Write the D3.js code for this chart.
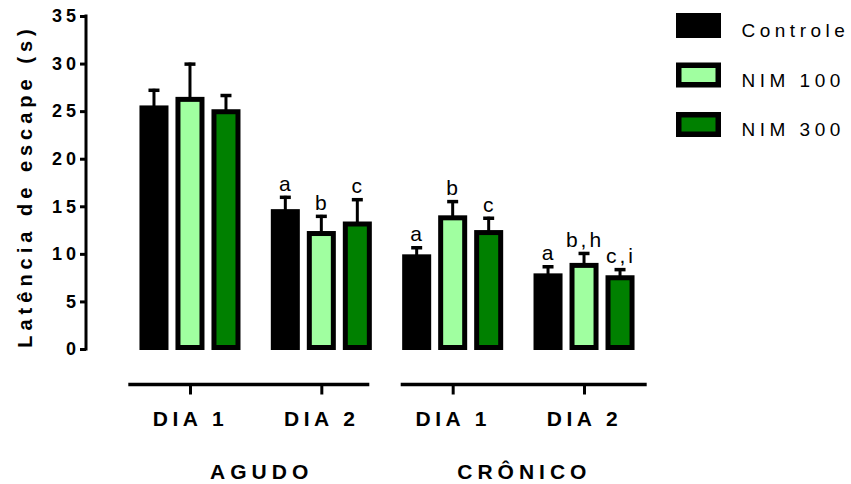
<!DOCTYPE html>
<html>
<head>
<meta charset="utf-8">
<script src="https://cdn.jsdelivr.net/npm/d3@7"></script>
<style>
  body { margin: 0; background: #fff; }
  svg { font-family: "Liberation Sans", Arial, sans-serif; }
</style>
</head>
<body>
<div id="chart-area"></div>
<script>
// data
var groups = ["A1", "A2", "C1", "C2"];
var dayLabels = ["DIA 1", "DIA 2", "DIA 1", "DIA 2"];
var phases = ["AGUDO", "CRÔNICO"];
var series = ["Controle", "NIM 100", "NIM 300"];
var controle = [25.6, 14.7, 9.95, 7.95];
var nim100 = [26.5, 12.4, 14.05, 9.05];
var nim300 = [25.2, 13.4, 12.5, 7.75];
var errControle = [1.75, 1.4, 0.85, 0.85];
var errNim100 = [3.6, 1.7, 1.6, 1.15];
var errNim300 = [1.6, 2.45, 1.4, 0.75];
var letters = [["", "a", "a", "a"], ["", "b", "b", "b,h"], ["", "c", "c", "c,i"]];
var yTicks = [0, 5, 10, 15, 20, 25, 30, 35];

var values = [controle, nim100, nim300];
var errors = [errControle, errNim100, errNim300];
var fills = ["#000000", "#a0ffa0", "#008000"];

var width = 851;
var height = 484;

var svg = d3.select("#chart-area")
    .append("svg")
    .attr("width", width)
    .attr("height", height);

var y = d3.scaleLinear()
    .domain([0, 35])
    .range([349, 16]);

var x0 = d3.scaleBand()
    .domain(groups)
    .range([124.3, 649.7]);

var x1 = d3.scaleBand()
    .domain(series)
    .range([-54, 54])
    .paddingInner(0.194)
    .paddingOuter(0.097);

var bars = [];
series.forEach(function(s, i) {
    groups.forEach(function(g, j) {
        bars.push({series: s, si: i, group: g, value: values[i][j], err: errors[i][j], letter: letters[i][j]});
    });
});

function barX(d) {
    return x0(d.group) + x0.bandwidth() / 2 + x1(d.series);
}

// error bars (drawn first, bars cover the stem base)
var eb = svg.append("g");
eb.selectAll("line.stem")
    .data(bars)
    .enter()
    .append("line")
    .attr("x1", function(d) { return barX(d) + x1.bandwidth() / 2; })
    .attr("x2", function(d) { return barX(d) + x1.bandwidth() / 2; })
    .attr("y1", function(d) { return y(d.value) + 2; })
    .attr("y2", function(d) { return y(d.value + d.err); })
    .attr("stroke", "#000")
    .attr("stroke-width", 3);
eb.selectAll("line.cap")
    .data(bars)
    .enter()
    .append("line")
    .attr("x1", function(d) { return barX(d) + x1.bandwidth() / 2 - 5.5; })
    .attr("x2", function(d) { return barX(d) + x1.bandwidth() / 2 + 5.5; })
    .attr("y1", function(d) { return y(d.value + d.err) + 1.5; })
    .attr("y2", function(d) { return y(d.value + d.err) + 1.5; })
    .attr("stroke", "#000")
    .attr("stroke-width", 3.5);

// bars: black outer, coloured inner
svg.selectAll("rect.outer")
    .data(bars)
    .enter()
    .append("rect")
    .attr("x", barX)
    .attr("y", function(d) { return y(d.value); })
    .attr("width", x1.bandwidth())
    .attr("height", function(d) { return y(0) + 1 - y(d.value); })
    .attr("fill", "#000");

svg.selectAll("rect.inner")
    .data(bars.filter(function(d) { return d.si > 0; }))
    .enter()
    .append("rect")
    .attr("x", function(d) { return barX(d) + 5; })
    .attr("y", function(d) { return y(d.value) + 5; })
    .attr("width", x1.bandwidth() - 10)
    .attr("height", function(d) { return y(0) + 1 - y(d.value) - 10; })
    .attr("fill", function(d) { return fills[d.si]; });

// significance letters
svg.selectAll("text.sig")
    .data(bars.filter(function(d) { return d.letter; }))
    .enter()
    .append("text")
    .attr("x", function(d) { return barX(d) + x1.bandwidth() / 2 + 1; })
    .attr("y", function(d) { return y(d.value + d.err) - 5; })
    .attr("text-anchor", "middle")
    .attr("font-size", 21)
    .attr("letter-spacing", 3)
    .attr("fill", "#000")
    .text(function(d) { return d.letter; });

// y axis
var yAxis = svg.append("g")
    .attr("transform", "translate(86,0)")
    .call(d3.axisLeft(y).tickValues(yTicks).tickSize(6).tickSizeOuter(0).tickPadding(4));
yAxis.select(".domain").attr("stroke-width", 3).attr("d", "M0," + (y(0) + 1.5) + "V" + (y(35) - 1.5));
yAxis.selectAll(".tick line").attr("stroke-width", 3);
yAxis.selectAll(".tick text")
    .attr("font-size", 18)
    .attr("font-weight", "bold")
    .attr("letter-spacing", 4)
    .attr("dx", 4)
    .attr("fill", "#000");

svg.append("text")
    .attr("transform", "translate(32,186) rotate(-90)")
    .attr("text-anchor", "middle")
    .attr("font-size", 20)
    .attr("font-weight", "bold")
    .attr("letter-spacing", 5)
    .text("Latência de escape (s)");

// x axis: two segments, one per phase
var segs = [[128.3, 369.3], [400.7, 646.7]];
segs.forEach(function(s, k) {
    var gs = groups.slice(k * 2, k * 2 + 2);
    var xs = d3.scalePoint().domain(gs).range([x0(gs[0]) + x0.bandwidth() / 2, x0(gs[1]) + x0.bandwidth() / 2]);
    var ax = svg.append("g")
        .attr("transform", "translate(0,384.5)")
        .call(d3.axisBottom(xs).tickSize(10).tickSizeOuter(0).tickFormat(function(d) {
            return dayLabels[groups.indexOf(d)];
        }).tickPadding(17));
    ax.select(".domain").attr("stroke-width", 3.5).attr("d", "M" + s[0] + ",0H" + s[1]);
    ax.selectAll(".tick line").attr("stroke-width", 3);
    ax.selectAll(".tick text")
        .attr("font-size", 21)
        .attr("font-weight", "bold")
        .attr("letter-spacing", 4.5)
        .attr("fill", "#000");
    svg.append("text")
        .attr("x", d3.mean(gs, function(g) { return x0(g) + x0.bandwidth() / 2; }) + 6)
        .attr("y", 478.5)
        .attr("text-anchor", "middle")
        .attr("font-size", 21)
        .attr("font-weight", "bold")
        .attr("letter-spacing", 5)
        .text(phases[k]);
});

// legend
var legend = svg.append("g").attr("transform", "translate(676,13)");
var li = legend.selectAll("g")
    .data(series)
    .enter()
    .append("g")
    .attr("transform", function(d, i) { return "translate(0," + i * 49.5 + ")"; });
li.append("rect")
    .attr("width", 45)
    .attr("height", 25)
    .attr("fill", "#000");
li.append("rect")
    .attr("x", 5.5)
    .attr("y", 5.5)
    .attr("width", 34)
    .attr("height", 14)
    .attr("fill", function(d, i) { return fills[i]; });
li.append("text")
    .attr("x", 65.5)
    .attr("y", 24)
    .attr("font-size", 19)
    .attr("letter-spacing", 4.5)
    .attr("fill", "#000")
    .text(function(d) { return d; });
</script>
</body>
</html>
